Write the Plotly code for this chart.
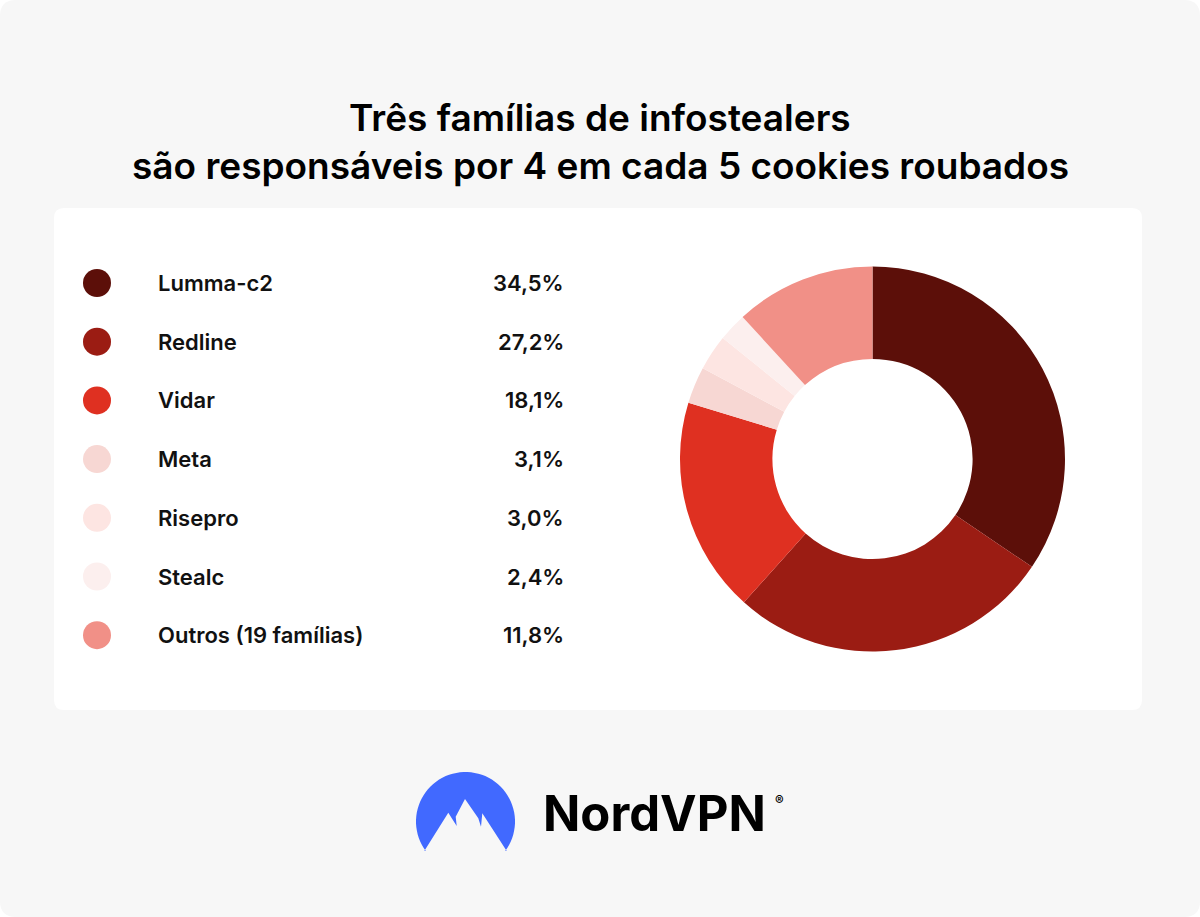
import numpy as np
import plotly.graph_objects as go

# ---- data ----
families = ["Lumma-c2", "Redline", "Vidar", "Meta", "Risepro", "Stealc", "Outros (19 famílias)"]
shares = [34.5, 27.2, 18.1, 3.1, 3.0, 2.4, 11.8]
share_labels = ["34,5%", "27,2%", "18,1%", "3,1%", "3,0%", "2,4%", "11,8%"]
colors = ["#5c0f09", "#9b1c13", "#df3021", "#f7d7d3", "#fde5e2", "#fcefee", "#f19087"]
title_lines = ["Três famílias de infostealers",
               "são responsáveis por 4 em cada 5 cookies roubados"]

W, H = 1200, 917
FONT = "Inter"

def rounded_rect(x0, y0, x1, y1, r):
    return (f"M {x0+r},{y0} L {x1-r},{y0} Q {x1},{y0} {x1},{y0+r} "
            f"L {x1},{y1-r} Q {x1},{y1} {x1-r},{y1} L {x0+r},{y1} "
            f"Q {x0},{y1} {x0},{y1-r} L {x0},{y0+r} Q {x0},{y0} {x0+r},{y0} Z")

fig = go.Figure()

# donut
cx, cy, R = 872.5, 459, 192.5
fig.add_trace(go.Pie(
    labels=families, values=shares, sort=False, direction="clockwise", rotation=0,
    hole=0.52, marker=dict(colors=colors, line=dict(width=0)),
    textinfo="none", hoverinfo="label+percent", showlegend=False,
    domain=dict(x=[(cx - R) / W, (cx + R) / W], y=[1 - (cy + R) / H, 1 - (cy - R) / H]),
))

# legend markers
row_y = [283 + i * 58.7 for i in range(len(families))]
fig.add_trace(go.Scatter(
    x=[97] * len(families), y=row_y, mode="markers",
    marker=dict(size=28, color=colors, line=dict(width=0)),
    showlegend=False, hoverinfo="skip", xaxis="x", yaxis="y",
))

annotations = []
for name, lab, y in zip(families, share_labels, row_y):
    annotations.append(dict(x=156, y=y, xref="x", yref="y", text=name, showarrow=False,
                            xanchor="left", yanchor="middle",
                            font=dict(family=FONT, size=22, color="#111111", weight=600)))
    annotations.append(dict(x=566, y=y, xref="x", yref="y", text=lab, showarrow=False,
                            xanchor="right", yanchor="middle",
                            font=dict(family=FONT, size=22, color="#111111", weight=600)))

for i, line in enumerate(title_lines):
    annotations.append(dict(x=600, y=117 + i * 48, xref="x", yref="y", text=line, showarrow=False,
                            xanchor="center", yanchor="middle",
                            font=dict(family=FONT, size=37, color="#000000", weight=600)))

annotations.append(dict(x=541, y=813, xref="x", yref="y", text="NordVPN", showarrow=False,
                        xanchor="left", yanchor="middle",
                        font=dict(family=FONT, size=49, color="#000000", weight=700)))
annotations.append(dict(x=779, y=800, xref="x", yref="y", text="®", showarrow=False,
                        xanchor="center", yanchor="middle",
                        font=dict(family=FONT, size=13, color="#000000", weight=600)))

# logo path (decorative)
lcx, lcy, lr = 465.5, 821.5, 49.5
ang0 = np.arcsin((851 - lcy) / lr)
pts = [(lcx + lr * np.cos(a), lcy - lr * np.sin(a)) for a in np.linspace(np.pi + ang0, -ang0, 60)]
mountain = [(506.7, 851), (482.3, 813.3), (481, 826.7), (478.3, 818.3), (465, 799),
            (455.7, 816.7), (456.7, 826), (448.3, 812.7), (424.3, 851)]
path = "M " + " L ".join(f"{x:.1f},{y:.1f}" for x, y in pts + mountain) + " Z"

shapes = [
    dict(type="path", path=rounded_rect(0, 0, W, H, 16), xref="x", yref="y",
         fillcolor="#f7f7f7", line=dict(width=0), layer="below"),
    dict(type="path", path=rounded_rect(54, 208, 1142, 710, 10), xref="x", yref="y",
         fillcolor="#ffffff", line=dict(width=0), layer="below"),
    dict(type="path", path=path, xref="x", yref="y", fillcolor="#4169ff", line=dict(width=0)),
]

fig.update_layout(
    width=W, height=H, margin=dict(l=0, r=0, t=0, b=0),
    paper_bgcolor="#ffffff", plot_bgcolor="rgba(0,0,0,0)",
    xaxis=dict(range=[0, W], visible=False, fixedrange=True),
    yaxis=dict(range=[H, 0], visible=False, fixedrange=True),
    shapes=shapes, annotations=annotations, showlegend=False,
)

fig.write_html("out.html", config={"displayModeBar": False},
               post_script="document.body.style.margin='0';document.body.style.overflow='hidden';")
